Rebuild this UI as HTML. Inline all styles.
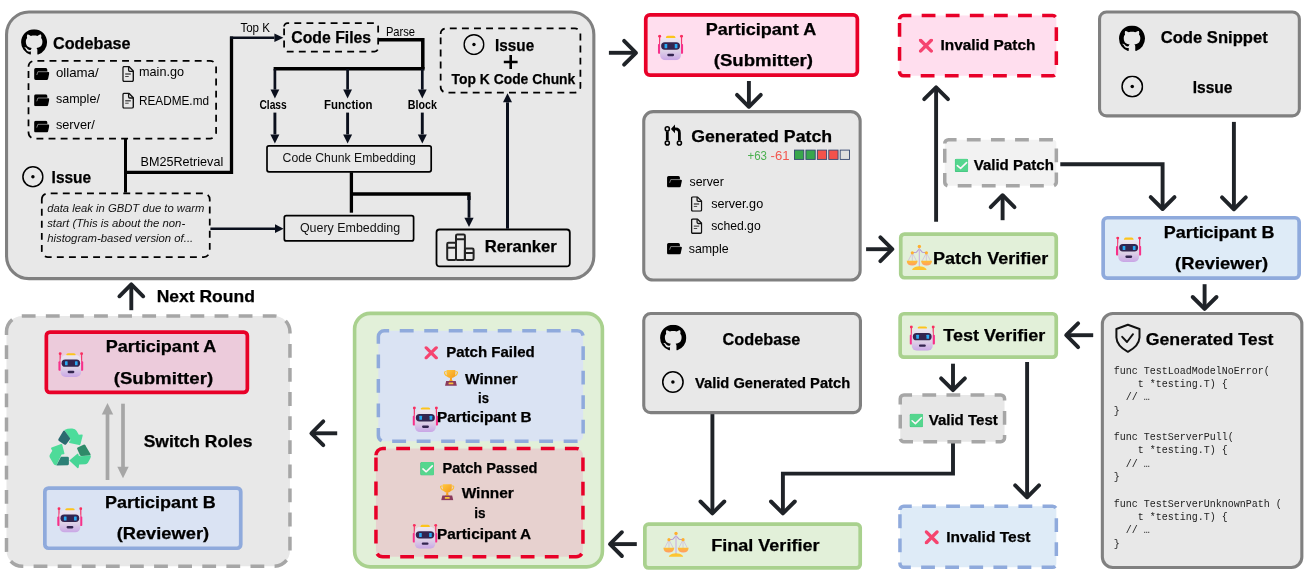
<!DOCTYPE html>
<html><head><meta charset="utf-8"><title>diagram</title>
<style>html,body{margin:0;padding:0;background:#fff}svg{display:block;will-change:transform}</style></head>
<body>
<svg width="1310" height="579" viewBox="0 0 1310 579">
<defs>
<linearGradient id="rbHead" x1="0" y1="0" x2="0" y2="1"><stop offset="0" stop-color="#ece6f1"/><stop offset="0.6" stop-color="#ddd0e6"/><stop offset="1" stop-color="#c9a6e6"/></linearGradient>
<linearGradient id="pan" x1="0" y1="0" x2="0" y2="1"><stop offset="0" stop-color="#ffc02e"/><stop offset="1" stop-color="#ff9a6a"/></linearGradient>
<linearGradient id="cup" x1="0" y1="0" x2="1" y2="1"><stop offset="0" stop-color="#ffc83d"/><stop offset="1" stop-color="#f59a1c"/></linearGradient>
<symbol id="robot" viewBox="0 0 100 100">
 <rect x="4.8" y="6" width="4.8" height="40" fill="#f4376d"/>
 <rect x="90.6" y="6" width="4.8" height="40" fill="#f4376d"/>
 <circle cx="7.2" cy="6.5" r="5.8" fill="#f92f60"/>
 <circle cx="93" cy="6.5" r="5.8" fill="#f92f60"/>
 <rect x="0.3" y="37" width="11" height="38" rx="4" fill="#f7318a"/>
 <rect x="88.7" y="37" width="11" height="38" rx="4" fill="#f7318a"/>
 <rect x="32" y="4.5" width="37" height="13" rx="6.5" fill="#fcc41c"/>
 <rect x="9" y="13" width="82" height="87" rx="20" fill="url(#rbHead)"/>
 <rect x="13" y="30" width="74" height="29" rx="14.5" fill="#33254f"/>
 <rect x="26.5" y="37" width="10.5" height="16" rx="2" fill="#2aa9f2"/>
 <rect x="66.5" y="37" width="10.5" height="16" rx="2" fill="#2aa9f2"/>
 <rect x="37" y="75" width="27" height="9.5" rx="4.5" fill="#33254f"/>
</symbol>
<symbol id="scales" viewBox="0 0 100 100">
 <path d="M22.5,32 L5,66 M22.5,32 L40,66 M22.5,32 V66 M77.5,32 L60,66 M77.5,32 L95,66 M77.5,32 V66" stroke="#cbb3de" stroke-width="2.6" fill="none"/>
 <path d="M22.5,32 L38,30 L49,18 M77.5,32 L62,30 L51,18" stroke="#b59ad4" stroke-width="4" fill="none" stroke-linejoin="round"/>
 <rect x="47.6" y="8" width="4.8" height="80" fill="#cdb6e2"/>
 <circle cx="50" cy="7.5" r="6.6" fill="#ffb02e"/>
 <circle cx="22.5" cy="32" r="6.2" fill="#ffb02e"/>
 <circle cx="77.5" cy="32" r="6.2" fill="#ffb02e"/>
 <path d="M0,63 H43.5 Q41,82 21.7,82 Q2.5,82 0,63Z" fill="url(#pan)"/>
 <path d="M56.5,63 H100 Q97.5,82 78.2,82 Q59,82 56.5,63Z" fill="url(#pan)"/>
 <path d="M22,99 Q22,92 36,87 Q50,82 64,87 Q78,92 78,99Z" fill="#fdc52f"/>
</symbol>
<symbol id="xmark" viewBox="0 0 14 14">
 <path d="M1.6,1.6 L12.4,12.4 M12.4,1.6 L1.6,12.4" stroke="#f5446f" stroke-width="3.4" stroke-linecap="round" fill="none"/>
</symbol>
<symbol id="check" viewBox="0 0 13.5 13.5">
 <rect x="0" y="0" width="13.5" height="13.5" rx="1.6" fill="#3fbd7d"/>
 <rect x="0.5" y="0" width="13" height="12.8" rx="1.5" fill="#55d68e"/>
 <path d="M2.6,6.9 L5.9,9.7 L11.9,3.9" stroke="#fff5fb" stroke-width="1.6" fill="none" stroke-linecap="round" stroke-linejoin="round"/>
</symbol>
<symbol id="trophy" viewBox="0 0 14 16.4">
 <path d="M2.6,2.2 H1.2 Q0.3,2.2 0.5,3.4 Q1,6 4,6.6 M11.4,2.2 H12.8 Q13.7,2.2 13.5,3.4 Q13,6 10,6.6" stroke="#fdbf2d" stroke-width="1.1" fill="none"/>
 <path d="M2.6,0.4 H11.4 V4 Q11.4,8.6 7,8.6 Q2.6,8.6 2.6,4Z" fill="url(#cup)"/>
 <path d="M6,8.2 H8 V10.4 L9.4,11.8 H4.6 L6,10.4Z" fill="#f7a21f"/>
 <path d="M2.2,11.6 H11.8 L12.9,16.2 H1.1Z" fill="#8a3a5c"/>
 <rect x="4.6" y="13" width="4.8" height="1.7" rx="0.5" fill="#f9c23c"/>
</symbol>
<symbol id="recycle" viewBox="0 0 627 579">
 <path d="M245,72 Q290,52 340,55 Q380,58 392,80 L420,130 L458,128 Q470,128 466,142 L440,245 Q436,258 424,254 L308,228 Q296,224 304,214 L320,192 L270,108Z" fill="#4cdc9b"/>
 <path d="M232,84 Q242,70 252,84 L312,170 Q318,180 310,190 L268,244 Q258,256 244,246 L180,204 Q166,194 174,180Z" fill="#2b6a70"/>
 <path d="M400,300 Q396,290 406,284 L476,250 Q490,244 498,256 L560,362 Q568,378 552,380 L452,386 Q440,386 434,376Z" fill="#2f8a69"/>
 <path d="M305,440 L402,358 Q412,350 414,362 L418,380 L440,388 L566,380 Q566,400 556,420 L530,468 Q520,484 500,486 L424,490 L418,524 Q414,540 402,530Z" fill="#47d596"/>
 <path d="M92,282 L206,242 Q218,238 220,250 L246,352 Q248,364 238,364 L212,368 L196,400 L150,498 Q128,500 116,482 L70,404 Q60,386 72,368 L100,322 L86,298 Q80,286 92,282Z" fill="#4edb99"/>
 <path d="M204,394 L284,394 Q300,394 300,410 L300,484 Q300,498 286,498 L150,500Z" fill="#2c8076"/>
</symbol>
<symbol id="github" viewBox="0 0 16 16">
 <path d="M8 0c4.42 0 8 3.58 8 8a8.013 8.013 0 0 1-5.45 7.59c-.4.08-.55-.17-.55-.38 0-.27.01-1.13.01-2.2 0-.75-.25-1.23-.54-1.48 1.78-.2 3.65-.88 3.65-3.95 0-.88-.31-1.59-.82-2.15.08-.2.36-1.02-.08-2.12 0 0-.67-.22-2.2.82-.64-.18-1.32-.27-2-.27-.68 0-1.36.09-2 .27-1.53-1.03-2.2-.82-2.2-.82-.44 1.1-.16 1.92-.08 2.12-.51.56-.82 1.28-.82 2.15 0 3.06 1.86 3.75 3.64 3.95-.23.2-.44.55-.51 1.07-.46.21-1.61.55-2.33-.66-.15-.24-.6-.83-1.23-.82-.67.01-.27.38.01.53.34.19.73.9.82 1.13.16.45.68 1.31 2.69.94 0 .67.01 1.3.01 1.49 0 .21-.15.45-.55.38A7.995 7.995 0 0 1 0 8c0-4.42 3.58-8 8-8Z" fill="#000"/>
</symbol>
<symbol id="issue" viewBox="0 0 24 24">
 <circle cx="12" cy="12" r="11" fill="none" stroke="#000" stroke-width="1.7"/>
 <circle cx="12" cy="12" r="1.9" fill="#000"/>
</symbol>
<symbol id="folder" viewBox="0 0 15.4 12">
 <path d="M1.6,0 H11.7 Q13.3,0 13.3,1.6 V3.9 H14.2 Q15.6,3.9 15.3,5.2 L14.1,10.8 Q13.8,12 12.5,12 H1.6 Q0,12 0,10.4 V1.6 Q0,0 1.6,0Z" fill="#000"/>
 <path d="M2.7,7 L3.8,3.7 H13.4" fill="none" stroke="#d6d6d6" stroke-width="0.6"/>
</symbol>
<symbol id="file" viewBox="0 0 11.8 16.2">
 <path d="M2,0.7 H6.7 L11.1,5.1 V14.2 Q11.1,15.5 9.8,15.5 H2 Q0.7,15.5 0.7,14.2 V2 Q0.7,0.7 2,0.7Z" fill="none" stroke="#111" stroke-width="1.4" stroke-linejoin="round"/>
 <path d="M6.4,0.9 V4.2 Q6.4,5.4 7.6,5.4 H10.9" fill="none" stroke="#111" stroke-width="1.3"/>
 <path d="M3,8.1 H8.6" stroke="#555" stroke-width="1.5"/>
 <path d="M3,10.6 H6.5" stroke="#444" stroke-width="1"/>
</symbol>
</defs>
<rect width="1310" height="579" fill="#ffffff"/>

<path d="M6.55,34.40 A22.45,22.45 0 0 1 29.00,11.95 H571.40 A22.45,22.45 0 0 1 593.85,34.40 V256.20 A22.45,22.45 0 0 1 571.40,278.65 H29.00 A22.45,22.45 0 0 1 6.55,256.20 Z" fill="#e8e8e8" stroke="#808080" stroke-width="3.1"/>
<use href="#github" x="20.8" y="29.2" width="26.6" height="26"/>
<text x="53" y="49" stroke="#000" stroke-width="0.25" font-family="Liberation Sans, sans-serif" font-size="17" font-weight="bold" text-anchor="start" fill="#000" textLength="77.5" lengthAdjust="spacingAndGlyphs" xml:space="preserve">Codebase</text>
<path d="M28.50,66.80 A6.00,6.00 0 0 1 34.50,60.80 H210.10 A6.00,6.00 0 0 1 216.10,66.80 V132.50 A6.00,6.00 0 0 1 210.10,138.50 H34.50 A6.00,6.00 0 0 1 28.50,132.50 Z" fill="none" stroke="#000" stroke-width="1.75" stroke-dasharray="6.9 5.2"/>
<use href="#folder" x="34.1" y="68.0" width="15.3" height="12"/>
<text x="55.9" y="76.5" font-family="Liberation Sans, sans-serif" font-size="13" font-weight="normal" text-anchor="start" fill="#000" textLength="42.8" lengthAdjust="spacingAndGlyphs" xml:space="preserve">ollama/</text>
<use href="#folder" x="34.1" y="94.3" width="15.3" height="12"/>
<text x="55.9" y="102.8" font-family="Liberation Sans, sans-serif" font-size="13" font-weight="normal" text-anchor="start" fill="#000" textLength="44" lengthAdjust="spacingAndGlyphs" xml:space="preserve">sample/</text>
<use href="#folder" x="34.1" y="120.6" width="15.3" height="12"/>
<text x="55.9" y="129.1" font-family="Liberation Sans, sans-serif" font-size="13" font-weight="normal" text-anchor="start" fill="#000" textLength="39" lengthAdjust="spacingAndGlyphs" xml:space="preserve">server/</text>
<use href="#file" x="122.2" y="65.9" width="11.8" height="16.2"/>
<text x="139" y="76.3" font-family="Liberation Sans, sans-serif" font-size="13" font-weight="normal" text-anchor="start" fill="#000" textLength="45" lengthAdjust="spacingAndGlyphs" xml:space="preserve">main.go</text>
<use href="#file" x="122.2" y="92.6" width="11.8" height="16.2"/>
<text x="139" y="104.5" font-family="Liberation Sans, sans-serif" font-size="13" font-weight="normal" text-anchor="start" fill="#000" textLength="70" lengthAdjust="spacingAndGlyphs" xml:space="preserve">README.md</text>
<use href="#issue" x="22" y="165.85" width="21.8" height="21.8"/>
<text x="51.6" y="182.5" stroke="#000" stroke-width="0.25" font-family="Liberation Sans, sans-serif" font-size="17" font-weight="bold" text-anchor="start" fill="#000" textLength="39.6" lengthAdjust="spacingAndGlyphs" xml:space="preserve">Issue</text>
<path d="M41.80,199.40 A6.00,6.00 0 0 1 47.80,193.40 H203.75 A6.00,6.00 0 0 1 209.75,199.40 V251.00 A6.00,6.00 0 0 1 203.75,257.00 H47.80 A6.00,6.00 0 0 1 41.80,251.00 Z" fill="none" stroke="#000" stroke-width="1.75" stroke-dasharray="6.9 5.2"/>
<text x="47.2" y="211.85" font-family="Liberation Sans, sans-serif" font-size="11.3" font-weight="normal" font-style="italic" text-anchor="start" fill="#111" textLength="157.2" lengthAdjust="spacingAndGlyphs" xml:space="preserve">data leak in GBDT due to warm</text>
<text x="47.2" y="226.85" font-family="Liberation Sans, sans-serif" font-size="11.3" font-weight="normal" font-style="italic" text-anchor="start" fill="#111" textLength="138" lengthAdjust="spacingAndGlyphs" xml:space="preserve">start (This is about the non-</text>
<text x="47.2" y="241.85" font-family="Liberation Sans, sans-serif" font-size="11.3" font-weight="normal" font-style="italic" text-anchor="start" fill="#111" textLength="146" lengthAdjust="spacingAndGlyphs" xml:space="preserve">histogram-based version of...</text>
<path d="M125.5,139 V192.6" stroke="#000" stroke-width="3" fill="none"/>
<path d="M125.5,172.3 H231.5 V36.4" stroke="#000" stroke-width="3.3" fill="none" stroke-linejoin="miter"/>
<path d="M230.00,37.70 L274.40,37.70" fill="none" stroke="#0a0f1c" stroke-width="2.6" stroke-linejoin="miter"/>
<path d="M283.4,37.7 L274.40,42.00 L274.40,33.40Z" fill="#0a0f1c"/>
<text x="140.6" y="165.7" font-family="Liberation Sans, sans-serif" font-size="13.4" font-weight="normal" text-anchor="start" fill="#000" textLength="82.6" lengthAdjust="spacingAndGlyphs" xml:space="preserve">BM25Retrieval</text>
<text x="240.4" y="31.5" font-family="Liberation Sans, sans-serif" font-size="12" font-weight="normal" text-anchor="start" fill="#000" textLength="29.6" lengthAdjust="spacingAndGlyphs" xml:space="preserve">Top K</text>
<path d="M284.10,26.55 A3.50,3.50 0 0 1 287.60,23.05 H374.65 A3.50,3.50 0 0 1 378.15,26.55 V48.10 A3.50,3.50 0 0 1 374.65,51.60 H287.60 A3.50,3.50 0 0 1 284.10,48.10 Z" fill="none" stroke="#000" stroke-width="1.75" stroke-dasharray="6.9 5.2"/>
<text x="291.3" y="43.3" stroke="#000" stroke-width="0.25" font-family="Liberation Sans, sans-serif" font-size="17" font-weight="bold" text-anchor="start" fill="#000" textLength="79.8" lengthAdjust="spacingAndGlyphs" xml:space="preserve">Code Files</text>
<text x="385.9" y="35.5" font-family="Liberation Sans, sans-serif" font-size="12.6" font-weight="normal" text-anchor="start" fill="#000" textLength="29.2" lengthAdjust="spacingAndGlyphs" xml:space="preserve">Parse</text>
<path d="M378.2,39.7 H422.8 V68.7" stroke="#000" stroke-width="3.5" fill="none" stroke-linejoin="miter"/>
<path d="M273.6,68.7 H424.55" stroke="#000" stroke-width="3.6" fill="none"/>
<path d="M274.90,69.00 L274.90,89.60" fill="none" stroke="#0a0f1c" stroke-width="2.7" stroke-linejoin="miter"/>
<path d="M274.9,98.6 L270.50,89.60 L279.30,89.60Z" fill="#0a0f1c"/>
<path d="M274.90,112.60 L274.90,134.40" fill="none" stroke="#0a0f1c" stroke-width="2.9" stroke-linejoin="miter"/>
<path d="M274.9,143.6 L270.40,134.40 L279.40,134.40Z" fill="#0a0f1c"/>
<path d="M347.60,69.00 L347.60,89.60" fill="none" stroke="#0a0f1c" stroke-width="2.7" stroke-linejoin="miter"/>
<path d="M347.6,98.6 L343.20,89.60 L352.00,89.60Z" fill="#0a0f1c"/>
<path d="M347.60,112.60 L347.60,134.40" fill="none" stroke="#0a0f1c" stroke-width="2.9" stroke-linejoin="miter"/>
<path d="M347.6,143.6 L343.10,134.40 L352.10,134.40Z" fill="#0a0f1c"/>
<path d="M422.30,69.00 L422.30,89.60" fill="none" stroke="#0a0f1c" stroke-width="2.7" stroke-linejoin="miter"/>
<path d="M422.3,98.6 L417.90,89.60 L426.70,89.60Z" fill="#0a0f1c"/>
<path d="M422.30,112.60 L422.30,134.40" fill="none" stroke="#0a0f1c" stroke-width="2.9" stroke-linejoin="miter"/>
<path d="M422.3,143.6 L417.80,134.40 L426.80,134.40Z" fill="#0a0f1c"/>
<text x="259.4" y="108.7" font-family="Liberation Sans, sans-serif" font-size="12.4" font-weight="bold" text-anchor="start" fill="#000" textLength="27.4" lengthAdjust="spacingAndGlyphs" xml:space="preserve">Class</text>
<text x="324.1" y="108.7" font-family="Liberation Sans, sans-serif" font-size="12.4" font-weight="bold" text-anchor="start" fill="#000" textLength="48.3" lengthAdjust="spacingAndGlyphs" xml:space="preserve">Function</text>
<text x="407.7" y="108.7" font-family="Liberation Sans, sans-serif" font-size="12.4" font-weight="bold" text-anchor="start" fill="#000" textLength="29.2" lengthAdjust="spacingAndGlyphs" xml:space="preserve">Block</text>
<path d="M267.00,147.80 A2.00,2.00 0 0 1 269.00,145.80 H429.20 A2.00,2.00 0 0 1 431.20,147.80 V169.80 A2.00,2.00 0 0 1 429.20,171.80 H269.00 A2.00,2.00 0 0 1 267.00,169.80 Z" fill="none" stroke="#000" stroke-width="1.7"/>
<text x="282.6" y="162.4" font-family="Liberation Sans, sans-serif" font-size="12.8" font-weight="normal" text-anchor="start" fill="#111" textLength="133.3" lengthAdjust="spacingAndGlyphs" xml:space="preserve">Code Chunk Embedding</text>
<path d="M351.4,172.3 V212.7" stroke="#000" stroke-width="3.3" fill="none"/>
<path d="M351.4,194 H469 V200" stroke="#000" stroke-width="3.3" fill="none" stroke-linejoin="miter"/>
<path d="M469.00,196.00 L469.00,217.80" fill="none" stroke="#0a0f1c" stroke-width="2.8" stroke-linejoin="miter"/>
<path d="M469,227 L464.40,217.80 L473.60,217.80Z" fill="#0a0f1c"/>
<path d="M284.30,217.70 A2.00,2.00 0 0 1 286.30,215.70 H411.60 A2.00,2.00 0 0 1 413.60,217.70 V238.90 A2.00,2.00 0 0 1 411.60,240.90 H286.30 A2.00,2.00 0 0 1 284.30,238.90 Z" fill="none" stroke="#000" stroke-width="1.7"/>
<text x="299.9" y="232" font-family="Liberation Sans, sans-serif" font-size="12.8" font-weight="normal" text-anchor="start" fill="#111" textLength="100.3" lengthAdjust="spacingAndGlyphs" xml:space="preserve">Query Embedding</text>
<path d="M210.40,228.70 L275.00,228.70" fill="none" stroke="#0a0f1c" stroke-width="2.6" stroke-linejoin="miter"/>
<path d="M283.6,228.7 L275.00,233.10 L275.00,224.30Z" fill="#0a0f1c"/>
<path d="M436.50,232.50 A3.00,3.00 0 0 1 439.50,229.50 H566.80 A3.00,3.00 0 0 1 569.80,232.50 V263.40 A3.00,3.00 0 0 1 566.80,266.40 H439.50 A3.00,3.00 0 0 1 436.50,263.40 Z" fill="none" stroke="#000" stroke-width="1.8"/>
<g fill="none" stroke="#222" stroke-width="2" stroke-linejoin="round"><rect x="447.2" y="242.8" width="8.8" height="17.1" rx="1.3"/><rect x="456" y="234.5" width="8.9" height="25.4" rx="1.3"/><rect x="464.9" y="248.6" width="8.7" height="11.3" rx="1.3"/><path d="M447.2,247.8 H456 M456,239.3 H464.9 M464.9,253.1 H473.6"/></g>
<text x="484.65" y="252.1" stroke="#000" stroke-width="0.25" font-family="Liberation Sans, sans-serif" font-size="16.6" font-weight="bold" text-anchor="start" fill="#000" textLength="72.2" lengthAdjust="spacingAndGlyphs" xml:space="preserve">Reranker</text>
<path d="M507.50,228.70 L507.50,102.30" fill="none" stroke="#0a0f1c" stroke-width="3.0" stroke-linejoin="miter"/>
<path d="M507.5,93.3 L512.00,102.30 L503.00,102.30Z" fill="#0a0f1c"/>
<path d="M440.65,33.90 A5.50,5.50 0 0 1 446.15,28.40 H574.90 A5.50,5.50 0 0 1 580.40,33.90 V87.10 A5.50,5.50 0 0 1 574.90,92.60 H446.15 A5.50,5.50 0 0 1 440.65,87.10 Z" fill="none" stroke="#000" stroke-width="1.75" stroke-dasharray="6.9 5.2"/>
<use href="#issue" x="463.2" y="33.8" width="21.5" height="21.5"/>
<text x="495.1" y="50.6" stroke="#000" stroke-width="0.25" font-family="Liberation Sans, sans-serif" font-size="16.8" font-weight="bold" text-anchor="start" fill="#000" textLength="39.1" lengthAdjust="spacingAndGlyphs" xml:space="preserve">Issue</text>
<path d="M503.8,62 H517.6 M510.7,55.1 V68.9" stroke="#000" stroke-width="2.6"/>
<text x="451.6" y="83.5" stroke="#000" stroke-width="0.25" font-family="Liberation Sans, sans-serif" font-size="15.2" font-weight="bold" text-anchor="start" fill="#000" textLength="123.7" lengthAdjust="spacingAndGlyphs" xml:space="preserve">Top K Code Chunk</text>
<path d="M608.9,52.8 L636,52.8" fill="none" stroke="#1f2328" stroke-width="3.9" stroke-linecap="butt" stroke-linejoin="miter"/>
<path d="M624.10,64.70 L636,52.8 L624.10,40.90" fill="none" stroke="#1f2328" stroke-width="3.9" stroke-linecap="round" stroke-linejoin="round"/>
<path d="M748.9,81 L748.9,106.8" fill="none" stroke="#1f2328" stroke-width="3.9" stroke-linecap="butt" stroke-linejoin="miter"/>
<path d="M737.00,94.90 L748.9,106.8 L760.80,94.90" fill="none" stroke="#1f2328" stroke-width="3.9" stroke-linecap="round" stroke-linejoin="round"/>
<path d="M936.1,221.8 L936.1,87.3" fill="none" stroke="#1f2328" stroke-width="3.9" stroke-linecap="butt" stroke-linejoin="miter"/>
<path d="M948.00,99.20 L936.1,87.3 L924.20,99.20" fill="none" stroke="#1f2328" stroke-width="3.9" stroke-linecap="round" stroke-linejoin="round"/>
<path d="M1002.6,220.2 L1002.6,195.2" fill="none" stroke="#1f2328" stroke-width="3.9" stroke-linecap="butt" stroke-linejoin="miter"/>
<path d="M1014.50,207.10 L1002.6,195.2 L990.70,207.10" fill="none" stroke="#1f2328" stroke-width="3.9" stroke-linecap="round" stroke-linejoin="round"/>
<path d="M1060.3,164.3 L1162.6,164.3 L1162.6,209" fill="none" stroke="#1f2328" stroke-width="3.9" stroke-linecap="butt" stroke-linejoin="miter"/>
<path d="M1150.70,197.10 L1162.6,209 L1174.50,197.10" fill="none" stroke="#1f2328" stroke-width="3.9" stroke-linecap="round" stroke-linejoin="round"/>
<path d="M1233.9,121.9 L1233.9,209.3" fill="none" stroke="#1f2328" stroke-width="3.9" stroke-linecap="butt" stroke-linejoin="miter"/>
<path d="M1222.00,197.40 L1233.9,209.3 L1245.80,197.40" fill="none" stroke="#1f2328" stroke-width="3.9" stroke-linecap="round" stroke-linejoin="round"/>
<path d="M1204.6,284.2 L1204.6,308.9" fill="none" stroke="#1f2328" stroke-width="3.9" stroke-linecap="butt" stroke-linejoin="miter"/>
<path d="M1192.70,297.00 L1204.6,308.9 L1216.50,297.00" fill="none" stroke="#1f2328" stroke-width="3.9" stroke-linecap="round" stroke-linejoin="round"/>
<path d="M1093.2,335.2 L1066.2,335.2" fill="none" stroke="#1f2328" stroke-width="3.9" stroke-linecap="butt" stroke-linejoin="miter"/>
<path d="M1078.10,323.30 L1066.2,335.2 L1078.10,347.10" fill="none" stroke="#1f2328" stroke-width="3.9" stroke-linecap="round" stroke-linejoin="round"/>
<path d="M866.1,249.2 L892.3,249.2" fill="none" stroke="#1f2328" stroke-width="3.9" stroke-linecap="butt" stroke-linejoin="miter"/>
<path d="M880.40,261.10 L892.3,249.2 L880.40,237.30" fill="none" stroke="#1f2328" stroke-width="3.9" stroke-linecap="round" stroke-linejoin="round"/>
<path d="M953,363.7 L953,390.2" fill="none" stroke="#1f2328" stroke-width="3.9" stroke-linecap="butt" stroke-linejoin="miter"/>
<path d="M941.10,378.30 L953,390.2 L964.90,378.30" fill="none" stroke="#1f2328" stroke-width="3.9" stroke-linecap="round" stroke-linejoin="round"/>
<path d="M1027.1,362 L1027.1,497.3" fill="none" stroke="#1f2328" stroke-width="3.9" stroke-linecap="butt" stroke-linejoin="miter"/>
<path d="M1015.20,485.40 L1027.1,497.3 L1039.00,485.40" fill="none" stroke="#1f2328" stroke-width="3.9" stroke-linecap="round" stroke-linejoin="round"/>
<path d="M953,442.5 L953,473.6 L782.9,473.6 L782.9,513.4" fill="none" stroke="#1f2328" stroke-width="3.9" stroke-linecap="butt" stroke-linejoin="miter"/>
<path d="M771.00,501.50 L782.9,513.4 L794.80,501.50" fill="none" stroke="#1f2328" stroke-width="3.9" stroke-linecap="round" stroke-linejoin="round"/>
<path d="M712.4,414 L712.4,513.4" fill="none" stroke="#1f2328" stroke-width="3.9" stroke-linecap="butt" stroke-linejoin="miter"/>
<path d="M700.50,501.50 L712.4,513.4 L724.30,501.50" fill="none" stroke="#1f2328" stroke-width="3.9" stroke-linecap="round" stroke-linejoin="round"/>
<path d="M636.8,544.1 L610,544.1" fill="none" stroke="#1f2328" stroke-width="3.9" stroke-linecap="butt" stroke-linejoin="miter"/>
<path d="M621.90,532.20 L610,544.1 L621.90,556.00" fill="none" stroke="#1f2328" stroke-width="3.9" stroke-linecap="round" stroke-linejoin="round"/>
<path d="M337.2,433.3 L311.4,433.3" fill="none" stroke="#1f2328" stroke-width="3.9" stroke-linecap="butt" stroke-linejoin="miter"/>
<path d="M323.30,421.40 L311.4,433.3 L323.30,445.20" fill="none" stroke="#1f2328" stroke-width="3.9" stroke-linecap="round" stroke-linejoin="round"/>
<path d="M131.3,310.2 L131.3,284.4" fill="none" stroke="#1f2328" stroke-width="3.9" stroke-linecap="butt" stroke-linejoin="miter"/>
<path d="M143.20,296.30 L131.3,284.4 L119.40,296.30" fill="none" stroke="#1f2328" stroke-width="3.9" stroke-linecap="round" stroke-linejoin="round"/>
<path d="M645.75,19.00 A4.15,4.15 0 0 1 649.90,14.85 H853.20 A4.15,4.15 0 0 1 857.35,19.00 V70.90 A4.15,4.15 0 0 1 853.20,75.05 H649.90 A4.15,4.15 0 0 1 645.75,70.90 Z" fill="#ffdeee" stroke="#e80028" stroke-width="3.7"/>
<use href="#robot" x="657.8" y="34.6" width="25.5" height="25.6"/>
<text x="705.7" y="34.5" stroke="#000" stroke-width="0.25" font-family="Liberation Sans, sans-serif" font-size="16.4" font-weight="bold" text-anchor="start" fill="#000" textLength="110.51" lengthAdjust="spacingAndGlyphs" xml:space="preserve">Participant A</text>
<text x="713.7" y="66.2" stroke="#000" stroke-width="0.25" font-family="Liberation Sans, sans-serif" font-size="16.4" font-weight="bold" text-anchor="start" fill="#000" textLength="99.38" lengthAdjust="spacingAndGlyphs" xml:space="preserve">(Submitter)</text>
<path d="M643.75,121.10 A9.45,9.45 0 0 1 653.20,111.65 H850.70 A9.45,9.45 0 0 1 860.15,121.10 V270.60 A9.45,9.45 0 0 1 850.70,280.05 H653.20 A9.45,9.45 0 0 1 643.75,270.60 Z" fill="#e8e8e8" stroke="#808080" stroke-width="3.1"/>
<g fill="none" stroke="#000"><path d="M667.3,131.5 V140.4" stroke-width="2.8"/><circle cx="667.3" cy="128.9" r="2.05" stroke-width="1.55"/><circle cx="667.3" cy="143" r="2.05" stroke-width="1.55"/><circle cx="679.4" cy="143" r="2.05" stroke-width="1.55"/><path d="M679.4,140.4 V133 Q679.4,128.9 675.4,128.9 H674" stroke-width="2.8"/></g><path d="M670.9,128.9 L675,124.6 V133.2Z" fill="#000"/>
<text x="691.2" y="141.8" stroke="#000" stroke-width="0.25" font-family="Liberation Sans, sans-serif" font-size="17" font-weight="bold" text-anchor="start" fill="#000" textLength="140.97" lengthAdjust="spacingAndGlyphs" xml:space="preserve">Generated Patch</text>
<text x="747.5" y="159.5" font-family="Liberation Sans, sans-serif" font-size="12" font-weight="normal" text-anchor="start" fill="#4cb050" textLength="19.5" lengthAdjust="spacingAndGlyphs" xml:space="preserve">+63</text>
<text x="770.5" y="159.5" font-family="Liberation Sans, sans-serif" font-size="12" font-weight="normal" text-anchor="start" fill="#f2574f" textLength="19" lengthAdjust="spacingAndGlyphs" xml:space="preserve">-61</text>
<rect x="794.50" y="150.1" width="9.3" height="9.3" fill="#39a64c" stroke="#33466f" stroke-width="0.9"/>
<rect x="805.92" y="150.1" width="9.3" height="9.3" fill="#39a64c" stroke="#33466f" stroke-width="0.9"/>
<rect x="817.34" y="150.1" width="9.3" height="9.3" fill="#f4524b" stroke="#33466f" stroke-width="0.9"/>
<rect x="828.76" y="150.1" width="9.3" height="9.3" fill="#f4524b" stroke="#33466f" stroke-width="0.9"/>
<rect x="840.18" y="150.1" width="9.3" height="9.3" fill="#e0e0e0" stroke="#33466f" stroke-width="0.9"/>
<use href="#folder" x="667" y="176" width="15" height="11.6"/>
<text x="689.5" y="186.2" font-family="Liberation Sans, sans-serif" font-size="12.6" font-weight="normal" text-anchor="start" fill="#000" textLength="34.3" lengthAdjust="spacingAndGlyphs" xml:space="preserve">server</text>
<use href="#file" x="690.7" y="196.2" width="11.8" height="15.6"/>
<text x="711.2" y="207.5" font-family="Liberation Sans, sans-serif" font-size="12.6" font-weight="normal" text-anchor="start" fill="#000" textLength="52" lengthAdjust="spacingAndGlyphs" xml:space="preserve">server.go</text>
<use href="#file" x="690.7" y="218.3" width="11.8" height="15.6"/>
<text x="711.2" y="230" font-family="Liberation Sans, sans-serif" font-size="12.6" font-weight="normal" text-anchor="start" fill="#000" textLength="49.5" lengthAdjust="spacingAndGlyphs" xml:space="preserve">sched.go</text>
<use href="#folder" x="667" y="243" width="15" height="11.6"/>
<text x="688.7" y="253.2" font-family="Liberation Sans, sans-serif" font-size="12.6" font-weight="normal" text-anchor="start" fill="#000" textLength="40" lengthAdjust="spacingAndGlyphs" xml:space="preserve">sample</text>
<path d="M899.55,19.30 A3.75,3.75 0 0 1 903.30,15.55 H1052.60 A3.75,3.75 0 0 1 1056.35,19.30 V72.10 A3.75,3.75 0 0 1 1052.60,75.85 H903.30 A3.75,3.75 0 0 1 899.55,72.10 Z" fill="#ffdeee" stroke="#e80028" stroke-width="3.5" stroke-dasharray="13.8 10.3"/>
<use href="#xmark" x="918.8" y="38.7" width="14.2" height="14"/>
<text x="940.5" y="50" stroke="#000" stroke-width="0.25" font-family="Liberation Sans, sans-serif" font-size="15" font-weight="bold" text-anchor="start" fill="#000" textLength="94.93" lengthAdjust="spacingAndGlyphs" xml:space="preserve">Invalid Patch</text>
<path d="M1099.55,18.90 A6.95,6.95 0 0 1 1106.50,11.95 H1292.40 A6.95,6.95 0 0 1 1299.35,18.90 V108.90 A6.95,6.95 0 0 1 1292.40,115.85 H1106.50 A6.95,6.95 0 0 1 1099.55,108.90 Z" fill="#e8e8e8" stroke="#808080" stroke-width="3.1"/>
<use href="#github" x="1118.7" y="25.6" width="26.6" height="26"/>
<text x="1160.7" y="43.2" stroke="#000" stroke-width="0.25" font-family="Liberation Sans, sans-serif" font-size="16.6" font-weight="bold" text-anchor="start" fill="#000" textLength="107.07" lengthAdjust="spacingAndGlyphs" xml:space="preserve">Code Snippet</text>
<use href="#issue" x="1121.1" y="75.4" width="22.3" height="22.3"/>
<text x="1192.7" y="93" stroke="#000" stroke-width="0.25" font-family="Liberation Sans, sans-serif" font-size="16.6" font-weight="bold" text-anchor="start" fill="#000" textLength="39.77" lengthAdjust="spacingAndGlyphs" xml:space="preserve">Issue</text>
<path d="M944.75,143.50 A3.75,3.75 0 0 1 948.50,139.75 H1052.60 A3.75,3.75 0 0 1 1056.35,143.50 V182.10 A3.75,3.75 0 0 1 1052.60,185.85 H948.50 A3.75,3.75 0 0 1 944.75,182.10 Z" fill="#f2f2f2" stroke="#a6a6a6" stroke-width="3.5" stroke-dasharray="13.8 10.3"/>
<use href="#check" x="954.7" y="158.7" width="13.5" height="13.4"/>
<text x="973.7" y="170" stroke="#000" stroke-width="0.25" font-family="Liberation Sans, sans-serif" font-size="15" font-weight="bold" text-anchor="start" fill="#000" textLength="80.25" lengthAdjust="spacingAndGlyphs" xml:space="preserve">Valid Patch</text>
<path d="M900.75,237.70 A3.65,3.65 0 0 1 904.40,234.05 H1052.60 A3.65,3.65 0 0 1 1056.25,237.70 V274.10 A3.65,3.65 0 0 1 1052.60,277.75 H904.40 A3.65,3.65 0 0 1 900.75,274.10 Z" fill="#e2f0d9" stroke="#a9d18e" stroke-width="3.7"/>
<use href="#scales" x="906.5" y="244.6" width="25.7" height="25.6"/>
<text x="933" y="263.7" stroke="#000" stroke-width="0.25" font-family="Liberation Sans, sans-serif" font-size="17.2" font-weight="bold" text-anchor="start" fill="#000" textLength="115.37" lengthAdjust="spacingAndGlyphs" xml:space="preserve">Patch Verifier</text>
<path d="M1103.15,221.90 A4.15,4.15 0 0 1 1107.30,217.75 H1295.00 A4.15,4.15 0 0 1 1299.15,221.90 V273.90 A4.15,4.15 0 0 1 1295.00,278.05 H1107.30 A4.15,4.15 0 0 1 1103.15,273.90 Z" fill="#deebf7" stroke="#8faadc" stroke-width="3.7"/>
<use href="#robot" x="1115.9" y="236.3" width="25.5" height="25.8"/>
<text x="1163.7" y="237.5" stroke="#000" stroke-width="0.25" font-family="Liberation Sans, sans-serif" font-size="16.4" font-weight="bold" text-anchor="start" fill="#000" textLength="110.81" lengthAdjust="spacingAndGlyphs" xml:space="preserve">Participant B</text>
<text x="1175" y="269.2" stroke="#000" stroke-width="0.25" font-family="Liberation Sans, sans-serif" font-size="16.4" font-weight="bold" text-anchor="start" fill="#000" textLength="93.1" lengthAdjust="spacingAndGlyphs" xml:space="preserve">(Reviewer)</text>
<path d="M1102.35,324.00 A10.45,10.45 0 0 1 1112.80,313.55 H1291.40 A10.45,10.45 0 0 1 1301.85,324.00 V557.00 A10.45,10.45 0 0 1 1291.40,567.45 H1112.80 A10.45,10.45 0 0 1 1102.35,557.00 Z" fill="#e8e8e8" stroke="#808080" stroke-width="3.1"/>
<path d="M1127.9,324.8 L1139.5,329 V337.5 Q1139,346 1127.9,351.8 Q1116.8,346 1116.4,337.5 V329Z" fill="none" stroke="#111" stroke-width="2" stroke-linejoin="round"/><path d="M1122.2,336.8 L1127,342 L1133,334.2" fill="none" stroke="#111" stroke-width="1.9" stroke-linecap="round" stroke-linejoin="round"/>
<text x="1145.7" y="345" stroke="#000" stroke-width="0.25" font-family="Liberation Sans, sans-serif" font-size="17" font-weight="bold" text-anchor="start" fill="#000" textLength="127.82" lengthAdjust="spacingAndGlyphs" xml:space="preserve">Generated Test</text>
<text x="1113.7" y="373.75" font-family="Liberation Mono, monospace" font-size="10" font-weight="normal" text-anchor="start" fill="#222" xml:space="preserve">func TestLoadModelNoError(</text>
<text x="1113.7" y="387.04" font-family="Liberation Mono, monospace" font-size="10" font-weight="normal" text-anchor="start" fill="#222" xml:space="preserve">    t *testing.T) {</text>
<text x="1113.7" y="400.33" font-family="Liberation Mono, monospace" font-size="10" font-weight="normal" text-anchor="start" fill="#222" xml:space="preserve">  // …</text>
<text x="1113.7" y="413.62" font-family="Liberation Mono, monospace" font-size="10" font-weight="normal" text-anchor="start" fill="#222" xml:space="preserve">}</text>
<text x="1113.7" y="440.2" font-family="Liberation Mono, monospace" font-size="10" font-weight="normal" text-anchor="start" fill="#222" xml:space="preserve">func TestServerPull(</text>
<text x="1113.7" y="453.49" font-family="Liberation Mono, monospace" font-size="10" font-weight="normal" text-anchor="start" fill="#222" xml:space="preserve">    t *testing.T) {</text>
<text x="1113.7" y="466.78" font-family="Liberation Mono, monospace" font-size="10" font-weight="normal" text-anchor="start" fill="#222" xml:space="preserve">  // …</text>
<text x="1113.7" y="480.07" font-family="Liberation Mono, monospace" font-size="10" font-weight="normal" text-anchor="start" fill="#222" xml:space="preserve">}</text>
<text x="1113.7" y="506.65" font-family="Liberation Mono, monospace" font-size="10" font-weight="normal" text-anchor="start" fill="#222" xml:space="preserve">func TestServerUnknownPath (</text>
<text x="1113.7" y="519.94" font-family="Liberation Mono, monospace" font-size="10" font-weight="normal" text-anchor="start" fill="#222" xml:space="preserve">    t *testing.T) {</text>
<text x="1113.7" y="533.23" font-family="Liberation Mono, monospace" font-size="10" font-weight="normal" text-anchor="start" fill="#222" xml:space="preserve">  // …</text>
<text x="1113.7" y="546.52" font-family="Liberation Mono, monospace" font-size="10" font-weight="normal" text-anchor="start" fill="#222" xml:space="preserve">}</text>
<path d="M900.15,317.40 A3.65,3.65 0 0 1 903.80,313.75 H1052.60 A3.65,3.65 0 0 1 1056.25,317.40 V353.50 A3.65,3.65 0 0 1 1052.60,357.15 H903.80 A3.65,3.65 0 0 1 900.15,353.50 Z" fill="#e2f0d9" stroke="#a9d18e" stroke-width="3.7"/>
<use href="#robot" x="909.5" y="325.3" width="25.5" height="25.5"/>
<text x="943.2" y="341.2" stroke="#000" stroke-width="0.25" font-family="Liberation Sans, sans-serif" font-size="17.2" font-weight="bold" text-anchor="start" fill="#000" textLength="102.21" lengthAdjust="spacingAndGlyphs" xml:space="preserve">Test Verifier</text>
<path d="M900.25,398.70 A3.75,3.75 0 0 1 904.00,394.95 H1000.80 A3.75,3.75 0 0 1 1004.55,398.70 V437.90 A3.75,3.75 0 0 1 1000.80,441.65 H904.00 A3.75,3.75 0 0 1 900.25,437.90 Z" fill="#e7e7e7" stroke="#a6a6a6" stroke-width="3.5" stroke-dasharray="13.8 10.3"/>
<use href="#check" x="909.5" y="413.8" width="13.5" height="13.6"/>
<text x="928.7" y="425" stroke="#000" stroke-width="0.25" font-family="Liberation Sans, sans-serif" font-size="15" font-weight="bold" text-anchor="start" fill="#000" textLength="69.12" lengthAdjust="spacingAndGlyphs" xml:space="preserve">Valid Test</text>
<path d="M899.95,509.90 A3.75,3.75 0 0 1 903.70,506.15 H1052.60 A3.75,3.75 0 0 1 1056.35,509.90 V563.50 A3.75,3.75 0 0 1 1052.60,567.25 H903.70 A3.75,3.75 0 0 1 899.95,563.50 Z" fill="#deebf7" stroke="#8faadc" stroke-width="3.5" stroke-dasharray="13.8 10.3"/>
<use href="#xmark" x="924.6" y="530.3" width="14.2" height="14"/>
<text x="946.2" y="541.5" stroke="#000" stroke-width="0.25" font-family="Liberation Sans, sans-serif" font-size="15" font-weight="bold" text-anchor="start" fill="#000" textLength="84.3" lengthAdjust="spacingAndGlyphs" xml:space="preserve">Invalid Test</text>
<path d="M643.75,320.50 A6.95,6.95 0 0 1 650.70,313.55 H853.50 A6.95,6.95 0 0 1 860.45,320.50 V405.70 A6.95,6.95 0 0 1 853.50,412.65 H650.70 A6.95,6.95 0 0 1 643.75,405.70 Z" fill="#e8e8e8" stroke="#808080" stroke-width="3.1"/>
<use href="#github" x="659.8" y="324.8" width="26.8" height="26.2"/>
<text x="722.5" y="344.5" stroke="#000" stroke-width="0.25" font-family="Liberation Sans, sans-serif" font-size="17" font-weight="bold" text-anchor="start" fill="#000" textLength="77.92" lengthAdjust="spacingAndGlyphs" xml:space="preserve">Codebase</text>
<use href="#issue" x="661.7" y="370.9" width="22.4" height="22.2"/>
<text x="695" y="388" stroke="#000" stroke-width="0.25" font-family="Liberation Sans, sans-serif" font-size="15" font-weight="bold" text-anchor="start" fill="#000" textLength="155.14" lengthAdjust="spacingAndGlyphs" xml:space="preserve">Valid Generated Patch</text>
<path d="M644.85,527.80 A3.65,3.65 0 0 1 648.50,524.15 H856.55 A3.65,3.65 0 0 1 860.20,527.80 V564.25 A3.65,3.65 0 0 1 856.55,567.90 H648.50 A3.65,3.65 0 0 1 644.85,564.25 Z" fill="#e2f0d9" stroke="#a9d18e" stroke-width="3.7"/>
<use href="#scales" x="663.2" y="531.5" width="25.6" height="25.6"/>
<text x="711.2" y="550.7" stroke="#000" stroke-width="0.25" font-family="Liberation Sans, sans-serif" font-size="17.2" font-weight="bold" text-anchor="start" fill="#000" textLength="108.28" lengthAdjust="spacingAndGlyphs" xml:space="preserve">Final Verifier</text>
<path d="M354.60,329.10 A15.70,15.70 0 0 1 370.30,313.40 H586.70 A15.70,15.70 0 0 1 602.40,329.10 V551.20 A15.70,15.70 0 0 1 586.70,566.90 H370.30 A15.70,15.70 0 0 1 354.60,551.20 Z" fill="#e2f0d9" stroke="#a9d18e" stroke-width="3.6"/>
<path d="M378.35,336.70 A5.85,5.85 0 0 1 384.20,330.85 H577.30 A5.85,5.85 0 0 1 583.15,336.70 V435.50 A5.85,5.85 0 0 1 577.30,441.35 H384.20 A5.85,5.85 0 0 1 378.35,435.50 Z" fill="#dae3f3" stroke="#8faadc" stroke-width="3.5" stroke-dasharray="13.9 10.6"/>
<use href="#xmark" x="424.2" y="346.2" width="14" height="13.2"/>
<text x="446.2" y="357" stroke="#000" stroke-width="0.25" font-family="Liberation Sans, sans-serif" font-size="15" font-weight="bold" text-anchor="start" fill="#000" textLength="88.55" lengthAdjust="spacingAndGlyphs" xml:space="preserve">Patch Failed</text>
<use href="#trophy" x="443.8" y="369.5" width="14.3" height="16.4"/>
<text x="465" y="383.7" stroke="#000" stroke-width="0.25" font-family="Liberation Sans, sans-serif" font-size="15" font-weight="bold" text-anchor="start" fill="#000" textLength="52.42" lengthAdjust="spacingAndGlyphs" xml:space="preserve">Winner</text>
<text x="478" y="403.2" stroke="#000" stroke-width="0.25" font-family="Liberation Sans, sans-serif" font-size="15" font-weight="bold" text-anchor="start" fill="#000" textLength="10.93" lengthAdjust="spacingAndGlyphs" xml:space="preserve">is</text>
<use href="#robot" x="412.5" y="406.2" width="25.7" height="25.8"/>
<text x="437" y="422" stroke="#000" stroke-width="0.25" font-family="Liberation Sans, sans-serif" font-size="15" font-weight="bold" text-anchor="start" fill="#000" textLength="94.62" lengthAdjust="spacingAndGlyphs" xml:space="preserve">Participant B</text>
<path d="M375.95,455.35 A6.85,6.85 0 0 1 382.80,448.50 H576.10 A6.85,6.85 0 0 1 582.95,455.35 V549.90 A6.85,6.85 0 0 1 576.10,556.75 H382.80 A6.85,6.85 0 0 1 375.95,549.90 Z" fill="#e7d1cf" stroke="#e80028" stroke-width="3.5" stroke-dasharray="13.8 10.3"/>
<use href="#check" x="420" y="462" width="14.2" height="13.6"/>
<text x="442.5" y="472.5" stroke="#000" stroke-width="0.25" font-family="Liberation Sans, sans-serif" font-size="15" font-weight="bold" text-anchor="start" fill="#000" textLength="94.93" lengthAdjust="spacingAndGlyphs" xml:space="preserve">Patch Passed</text>
<use href="#trophy" x="440" y="483.8" width="14.5" height="16.7"/>
<text x="461.7" y="498" stroke="#000" stroke-width="0.25" font-family="Liberation Sans, sans-serif" font-size="15" font-weight="bold" text-anchor="start" fill="#000" textLength="52.12" lengthAdjust="spacingAndGlyphs" xml:space="preserve">Winner</text>
<text x="474.2" y="517.5" stroke="#000" stroke-width="0.25" font-family="Liberation Sans, sans-serif" font-size="15" font-weight="bold" text-anchor="start" fill="#000" textLength="11.33" lengthAdjust="spacingAndGlyphs" xml:space="preserve">is</text>
<use href="#robot" x="412.5" y="523.7" width="25" height="25"/>
<text x="437" y="538.7" stroke="#000" stroke-width="0.25" font-family="Liberation Sans, sans-serif" font-size="15" font-weight="bold" text-anchor="start" fill="#000" textLength="94.12" lengthAdjust="spacingAndGlyphs" xml:space="preserve">Participant A</text>
<path d="M6.50,331.70 A15.75,15.75 0 0 1 22.25,315.95 H274.20 A15.75,15.75 0 0 1 289.95,331.70 V550.40 A15.75,15.75 0 0 1 274.20,566.15 H22.25 A15.75,15.75 0 0 1 6.50,550.40 Z" fill="#e8e8e8" stroke="#a6a6a6" stroke-width="3.5" stroke-dasharray="13.8 10.3"/>
<path d="M46.35,335.70 A3.65,3.65 0 0 1 50.00,332.05 H243.70 A3.65,3.65 0 0 1 247.35,335.70 V388.80 A3.65,3.65 0 0 1 243.70,392.45 H50.00 A3.65,3.65 0 0 1 46.35,388.80 Z" fill="#eccbdb" stroke="#e80028" stroke-width="3.7"/>
<use href="#robot" x="58" y="352" width="25.7" height="25"/>
<text x="105.7" y="352" stroke="#000" stroke-width="0.25" font-family="Liberation Sans, sans-serif" font-size="16.4" font-weight="bold" text-anchor="start" fill="#000" textLength="110.61" lengthAdjust="spacingAndGlyphs" xml:space="preserve">Participant A</text>
<text x="113.7" y="383.7" stroke="#000" stroke-width="0.25" font-family="Liberation Sans, sans-serif" font-size="16.4" font-weight="bold" text-anchor="start" fill="#000" textLength="99.48" lengthAdjust="spacingAndGlyphs" xml:space="preserve">(Submitter)</text>
<path d="M44.85,491.70 A3.65,3.65 0 0 1 48.50,488.05 H237.10 A3.65,3.65 0 0 1 240.75,491.70 V544.60 A3.65,3.65 0 0 1 237.10,548.25 H48.50 A3.65,3.65 0 0 1 44.85,544.60 Z" fill="#dae3f3" stroke="#8faadc" stroke-width="3.7"/>
<use href="#robot" x="57.1" y="507" width="25.5" height="25.4"/>
<text x="105" y="507.7" stroke="#000" stroke-width="0.25" font-family="Liberation Sans, sans-serif" font-size="16.4" font-weight="bold" text-anchor="start" fill="#000" textLength="110.81" lengthAdjust="spacingAndGlyphs" xml:space="preserve">Participant B</text>
<text x="116.7" y="539" stroke="#000" stroke-width="0.25" font-family="Liberation Sans, sans-serif" font-size="16.4" font-weight="bold" text-anchor="start" fill="#000" textLength="92.4" lengthAdjust="spacingAndGlyphs" xml:space="preserve">(Reviewer)</text>
<path d="M107.5,480 V413" stroke="#a6a6a6" stroke-width="3.7" fill="none"/><path d="M107.5,403 L113.2,414.5 H101.8Z" fill="#a6a6a6"/>
<path d="M123,403.7 V468" stroke="#a6a6a6" stroke-width="3.7" fill="none"/><path d="M123,478.3 L128.7,466.8 H117.3Z" fill="#a6a6a6"/>
<use href="#recycle" x="44" y="424" width="52" height="48"/>
<text x="143.7" y="447" stroke="#000" stroke-width="0.25" font-family="Liberation Sans, sans-serif" font-size="17" font-weight="bold" text-anchor="start" fill="#000" textLength="108.79" lengthAdjust="spacingAndGlyphs" xml:space="preserve">Switch Roles</text>
<text x="156.7" y="302.1" stroke="#000" stroke-width="0.25" font-family="Liberation Sans, sans-serif" font-size="17" font-weight="bold" text-anchor="start" fill="#000" textLength="98.16" lengthAdjust="spacingAndGlyphs" xml:space="preserve">Next Round</text>
</svg>
</body></html>
